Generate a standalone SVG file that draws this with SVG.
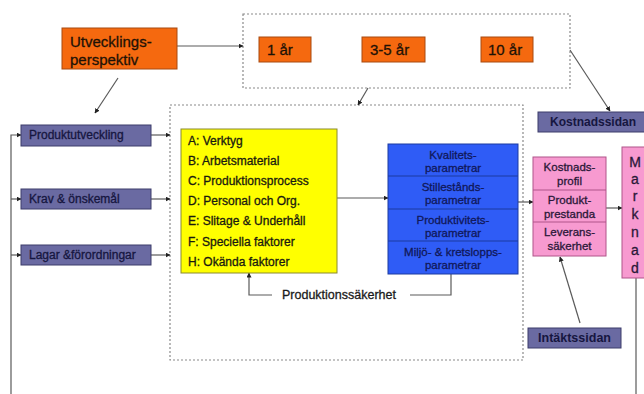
<svg xmlns="http://www.w3.org/2000/svg" width="644" height="394" viewBox="0 0 644 394">
  <style>
    text { font-family: "Liberation Sans", Arial, sans-serif; stroke-width: 0.3; }
    .orange { fill: #f5690f; stroke: #a84a10; stroke-width: 1; }
    .purple { fill: #6a6aa2; stroke: #3d3d6a; stroke-width: 1; }
    .yellow { fill: #ffff00; stroke: #8a8a30; stroke-width: 1; }
    .blue { fill: #2f5cf6; stroke: #1c3aa0; stroke-width: 1; }
    .pink { fill: #f79ad0; stroke: #b0558a; stroke-width: 1; }
    .dotted { fill: none; stroke: #8a8a8a; stroke-width: 1.2; stroke-dasharray: 2 2; }
    .t-orange { font-size: 15px; fill: #1e1206; stroke: #1e1206; }
    .t-purple { font-size: 12px; fill: #161640; stroke: #161640; }
    .t-bold { font-size: 12px; font-weight: bold; fill: #161640; }
    .t-yellow { font-size: 12px; fill: #1a1a10; stroke: #1a1a10; }
    .t-blue { font-size: 11.5px; fill: #10185a; stroke: #10185a; text-anchor: middle; }
    .t-pink { font-size: 11.5px; fill: #2a1838; stroke: #2a1838; text-anchor: middle; }
    .t-mark { font-size: 14px; fill: #2a1838; stroke: #2a1838; text-anchor: middle; }
    .conn { fill: none; stroke: #5a5a5a; stroke-width: 1.2; }
  </style>
  <defs>
    <marker id="ah" viewBox="0 0 10 10" refX="9" refY="5" markerWidth="5" markerHeight="5" orient="auto" markerUnits="userSpaceOnUse">
      <path d="M0,0 L10,5 L0,10 z" fill="#222"/>
    </marker>
  </defs>

  <rect width="644" height="394" fill="#ffffff"/>

  <!-- dotted frames -->
  <rect id="horizon-frame" class="dotted" x="243" y="14" width="327" height="74"/>
  <rect id="production-frame" class="dotted" x="170" y="105" width="353" height="255"/>

  <!-- connectors -->
  <g id="connectors">
    <line class="conn" x1="177" y1="46" x2="243" y2="46" marker-end="url(#ah)"/>
    <line class="conn" x1="118" y1="78" x2="95" y2="113" marker-end="url(#ah)"/>
    <line class="conn" x1="368" y1="88" x2="358" y2="105" marker-end="url(#ah)"/>
    <line class="conn" x1="570" y1="50" x2="610" y2="111" marker-end="url(#ah)"/>
    <path class="conn" d="M11,394 V135 H21" marker-end="url(#ah)"/>
    <line class="conn" x1="11" y1="199" x2="21" y2="199" marker-end="url(#ah)"/>
    <line class="conn" x1="11" y1="255" x2="21" y2="255" marker-end="url(#ah)"/>
    <line class="conn" x1="151" y1="135" x2="170" y2="135" marker-end="url(#ah)"/>
    <line class="conn" x1="151" y1="199" x2="170" y2="199" marker-end="url(#ah)"/>
    <line class="conn" x1="151" y1="255" x2="170" y2="255" marker-end="url(#ah)"/>
    <line class="conn" x1="337" y1="198" x2="388" y2="198" marker-end="url(#ah)"/>
    <line class="conn" x1="518" y1="202" x2="533" y2="202" marker-end="url(#ah)"/>
    <line class="conn" x1="606" y1="208" x2="622" y2="208" marker-end="url(#ah)"/>
    <line class="conn" x1="580" y1="323" x2="560" y2="257" marker-end="url(#ah)"/>
    <path class="conn" d="M451,274 V295 H410"/>
    <path class="conn" d="M272,295 H249 V273" marker-end="url(#ah)"/>
    <line class="conn" x1="636" y1="278" x2="636" y2="394"/>
  </g>

  <g id="utvecklingsperspektiv">
    <rect class="orange" x="62" y="28" width="115" height="41"/>
    <text class="t-orange" x="70" y="47">Utvecklings-</text>
    <text class="t-orange" x="70" y="65">perspektiv</text>
  </g>

  <g id="ar-1">
    <rect class="orange" x="259" y="37" width="52" height="25"/>
    <text class="t-orange" x="267" y="55">1 år</text>
  </g>
  <g id="ar-3-5">
    <rect class="orange" x="362" y="37" width="63" height="25"/>
    <text class="t-orange" x="370" y="55">3-5 år</text>
  </g>
  <g id="ar-10">
    <rect class="orange" x="481" y="37" width="52" height="25"/>
    <text class="t-orange" x="488" y="55">10 år</text>
  </g>

  <g id="kostnadssidan">
    <rect class="purple" x="538" y="112" width="110" height="20"/>
    <text class="t-bold" x="550" y="126">Kostnadssidan</text>
  </g>

  <g id="produktutveckling">
    <rect class="purple" x="21" y="125" width="130" height="21"/>
    <text class="t-purple" x="29" y="139">Produktutveckling</text>
  </g>
  <g id="krav">
    <rect class="purple" x="21" y="189" width="130" height="20"/>
    <text class="t-purple" x="29" y="203">Krav &amp; önskemål</text>
  </g>
  <g id="lagar">
    <rect class="purple" x="21" y="245" width="130" height="20"/>
    <text class="t-purple" x="29" y="259">Lagar &amp;förordningar</text>
  </g>

  <g id="faktorer">
    <rect class="yellow" x="181" y="129" width="156" height="144"/>
    <text class="t-yellow" x="188" y="145">A: Verktyg</text>
    <text class="t-yellow" x="188" y="165">B: Arbetsmaterial</text>
    <text class="t-yellow" x="188" y="185">C: Produktionsprocess</text>
    <text class="t-yellow" x="188" y="205">D: Personal och Org.</text>
    <text class="t-yellow" x="188" y="225">E: Slitage &amp; Underhåll</text>
    <text class="t-yellow" x="188" y="246">F: Speciella faktorer</text>
    <text class="t-yellow" x="188" y="266">H: Okända faktorer</text>
  </g>

  <g id="parametrar">
    <rect class="blue" x="388" y="144" width="130" height="130"/>
    <line stroke="#1c3aa0" x1="388" y1="176" x2="518" y2="176"/>
    <line stroke="#1c3aa0" x1="388" y1="209" x2="518" y2="209"/>
    <line stroke="#1c3aa0" x1="388" y1="241" x2="518" y2="241"/>
    <text class="t-blue" x="453" y="159">Kvalitets-</text>
    <text class="t-blue" x="453" y="172">parametrar</text>
    <text class="t-blue" x="453" y="191">Stillestånds-</text>
    <text class="t-blue" x="453" y="204">parametrar</text>
    <text class="t-blue" x="453" y="224">Produktivitets-</text>
    <text class="t-blue" x="453" y="237">parametrar</text>
    <text class="t-blue" x="453" y="256">Miljö- &amp; kretslopps-</text>
    <text class="t-blue" x="453" y="269">parametrar</text>
  </g>

  <g id="produktionssakerhet">
    <text x="282" y="299" font-size="12.5" fill="#1a1a1a" stroke="#1a1a1a">Produktionssäkerhet</text>
  </g>

  <g id="egenskaper">
    <rect class="pink" x="533" y="157" width="73" height="99"/>
    <line stroke="#b0558a" x1="533" y1="190" x2="606" y2="190"/>
    <line stroke="#b0558a" x1="533" y1="222" x2="606" y2="222"/>
    <text class="t-pink" x="569.5" y="171">Kostnads-</text>
    <text class="t-pink" x="569.5" y="185">profil</text>
    <text class="t-pink" x="569.5" y="204">Produkt-</text>
    <text class="t-pink" x="569.5" y="218">prestanda</text>
    <text class="t-pink" x="569.5" y="236">Leverans-</text>
    <text class="t-pink" x="569.5" y="250">säkerhet</text>
  </g>

  <g id="marknad">
    <rect class="pink" x="622" y="147" width="30" height="131"/>
    <text class="t-mark" x="635" y="167">M</text>
    <text class="t-mark" x="635" y="184">a</text>
    <text class="t-mark" x="635" y="201">r</text>
    <text class="t-mark" x="635" y="219">k</text>
    <text class="t-mark" x="635" y="237">n</text>
    <text class="t-mark" x="635" y="255">a</text>
    <text class="t-mark" x="635" y="273">d</text>
  </g>

  <g id="intaktssidan">
    <rect class="purple" x="528" y="328" width="93" height="20"/>
    <text x="574.5" y="342" font-size="12.5" font-weight="bold" fill="#161640" text-anchor="middle">Intäktssidan</text>
  </g>
</svg>
